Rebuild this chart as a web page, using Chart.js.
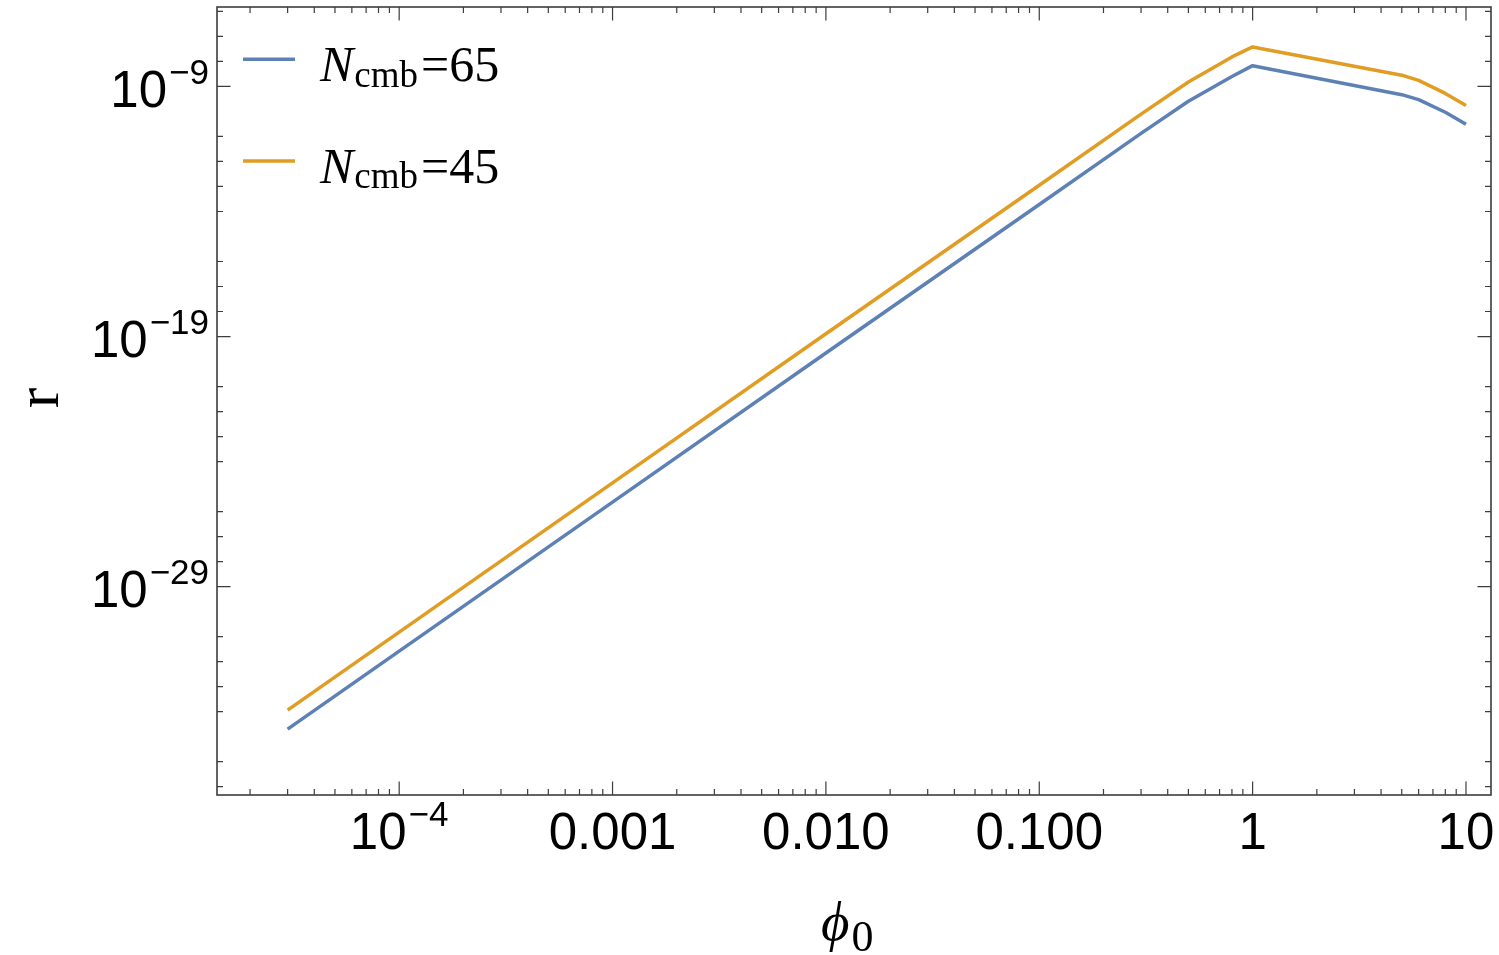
<!DOCTYPE html>
<html lang="en">
<head>
  <meta charset="UTF-8">
  <title>r vs phi0</title>
  <script src="https://cdn.jsdelivr.net/npm/chart.js"></script>
  <style>
    html, body { margin: 0; padding: 0; background: #fff; }
    #chartContainer { width: 1499px; height: 955px; }
  </style>
</head>
<body>

<div id="chartContainer">
  <canvas id="rChart" width="1499" height="955"></canvas>
</div>

<script>
// values (log-log)
const phi0 = [3e-5, 1e-4, 1e-3, 1e-2, 0.1, 0.3, 0.5, 0.8, 1, 5, 6, 8, 10];
const rN65 = [2.0e-35, 2.63e-32, 2.4e-26, 2.19e-20, 1.9e-14, 1.32e-11, 2.57e-10, 2.51e-9, 6.76e-9, 4.68e-10, 2.95e-10, 9.3e-11, 3.09e-11];
const rN45 = [1.15e-34, 1.51e-31, 1.41e-25, 1.29e-19, 1.12e-13, 7.8e-11, 1.51e-9, 1.51e-8, 3.8e-8, 2.82e-9, 1.74e-9, 5.25e-10, 1.74e-10];
const seriesNames = ['65', '45'];
const seriesColors = ['#5E81B5', '#E19C24'];

const xTicks = [1e-4, 1e-3, 1e-2, 0.1, 1, 10];
const xTickLabels = [['10', '\u22124'], '0.001', '0.010', '0.100', '1', '10'];
const yTicks = [1e-9, 1e-19, 1e-29];
const yTickLabels = [['10', '\u22129'], ['10', '\u221219'], ['10', '\u221229']];

const frameColor = '#3d3d3d';

function pts(ys) {
  return phi0.map((x, i) => ({ x: x, y: ys[i] }));
}

// "10" + superscript, or plain text
function drawTickLabel(ctx, label, x, baseline, align) {
  const parts = Array.isArray(label) ? label : [label, ''];
  ctx.font = '51px "Liberation Sans", Arial';
  const w1 = ctx.measureText(parts[0]).width;
  ctx.font = '35px "Liberation Sans", Arial';
  const w2 = parts[1] ? ctx.measureText(parts[1]).width + 2 : 0;
  const x0 = align === 'center' ? x - (w1 + w2) / 2 : x - (w1 + w2);
  ctx.textAlign = 'left';
  ctx.textBaseline = 'alphabetic';
  ctx.fillStyle = '#000';
  ctx.font = '51px "Liberation Sans", Arial';
  ctx.fillText(parts[0], x0, baseline);
  if (parts[1]) {
    ctx.font = '35px "Liberation Sans", Arial';
    ctx.fillText(parts[1], x0 + w1 + 2, baseline - 23.3);
  }
}

function legendEntry(ctx, y, color, n) {
  ctx.strokeStyle = color;
  ctx.lineWidth = 3.5;
  ctx.beginPath();
  ctx.moveTo(243, y);
  ctx.lineTo(295, y);
  ctx.stroke();

  const base = y + 21.7;
  let x = 320;
  ctx.fillStyle = '#000';
  ctx.textAlign = 'left';
  ctx.font = 'italic 50px "Liberation Serif", serif';
  ctx.fillText('N', x, base);
  x += ctx.measureText('N').width + 1;
  ctx.font = '37px "Liberation Serif", serif';
  ctx.fillText('cmb', x, base + 5.7);
  x += ctx.measureText('cmb').width + 3;
  ctx.font = '50px "Liberation Serif", serif';
  ctx.fillText('=' + n, x, base);
}

const framePlugin = {
  id: 'frame',
  afterDraw(chart) {
    const ctx = chart.ctx;
    const a = chart.chartArea;
    const xs = chart.scales.x;
    const ys = chart.scales.y;
    ctx.save();

    // frame
    ctx.strokeStyle = frameColor;
    ctx.lineWidth = 1.6;
    ctx.strokeRect(a.left, a.top, a.right - a.left, a.bottom - a.top);

    // x ticks, bottom and top, pointing inward
    ctx.lineWidth = 1.2;
    ctx.beginPath();
    for (let k = -5; k <= 1; k++) {
      for (let m = 1; m <= 9; m++) {
        const v = m * Math.pow(10, k);
        if (v < xs.min || v > xs.max) continue;
        const px = xs.getPixelForValue(v);
        const len = m === 1 ? 13.5 : 6;
        ctx.moveTo(px, a.bottom);
        ctx.lineTo(px, a.bottom - len);
        ctx.moveTo(px, a.top);
        ctx.lineTo(px, a.top + len);
      }
    }
    // y ticks, left and right
    for (let e = -37; e <= -6; e++) {
      const major = (e + 9) % 10 === 0;
      if (!major && e % 5 === 0) continue;
      const py = ys.getPixelForValue(Math.pow(10, e));
      const len = major ? 13.5 : 6;
      ctx.moveTo(a.left, py);
      ctx.lineTo(a.left + len, py);
      ctx.moveTo(a.right, py);
      ctx.lineTo(a.right - len, py);
    }
    ctx.stroke();

    // tick labels
    xTicks.forEach((v, i) => {
      drawTickLabel(ctx, xTickLabels[i], xs.getPixelForValue(v), 849, 'center');
    });
    yTicks.forEach((v, i) => {
      drawTickLabel(ctx, yTickLabels[i], 209, ys.getPixelForValue(v) + 20.6, 'right');
    });

    // axis titles
    ctx.fillStyle = '#000';
    ctx.save();
    ctx.translate(58, 398);
    ctx.rotate(-Math.PI / 2);
    ctx.textAlign = 'center';
    ctx.font = '62px "Liberation Serif", serif';
    ctx.fillText('r', 0, 0);
    ctx.restore();

    ctx.textAlign = 'left';
    ctx.font = 'italic 55px "Liberation Serif", "DejaVu Serif", serif';
    ctx.fillText('\u03D5', 821, 940);
    const pw = ctx.measureText('\u03D5').width;
    ctx.font = '44px "Liberation Serif", serif';
    ctx.fillText('0', 821 + pw + 2, 950.5);

    // legend
    legendEntry(ctx, 59.3, seriesColors[0], seriesNames[0]);
    legendEntry(ctx, 161, seriesColors[1], seriesNames[1]);

    ctx.restore();
  }
};

const ctx = document.getElementById('rChart').getContext('2d');
const chart = new Chart(ctx, {
  type: 'scatter',
  data: {
    datasets: [
      { label: 'N_cmb=' + seriesNames[0], data: pts(rN65), borderColor: seriesColors[0] },
      { label: 'N_cmb=' + seriesNames[1], data: pts(rN45), borderColor: seriesColors[1] }
    ]
  },
  options: {
    responsive: false,
    animation: false,
    showLine: true,
    layout: { padding: { left: 217, right: 8, top: 7, bottom: 160 } },
    elements: {
      point: { radius: 0, hoverRadius: 0 },
      line: { borderWidth: 3.5, tension: 0, borderJoinStyle: 'round', fill: false }
    },
    scales: {
      x: {
        type: 'logarithmic', display: false, bounds: 'data',
        min: 1.40e-5, max: 13.1,
        afterBuildTicks: s => { s.ticks = xTicks.map(v => ({ value: v })); }
      },
      y: {
        type: 'logarithmic', display: false, bounds: 'data',
        min: 4.66e-38, max: 1.5e-6,
        afterBuildTicks: s => { s.ticks = yTicks.map(v => ({ value: v })); }
      }
    },
    plugins: {
      legend: { display: false },
      tooltip: { enabled: false }
    }
  },
  plugins: [framePlugin]
});
</script>

</body>
</html>
